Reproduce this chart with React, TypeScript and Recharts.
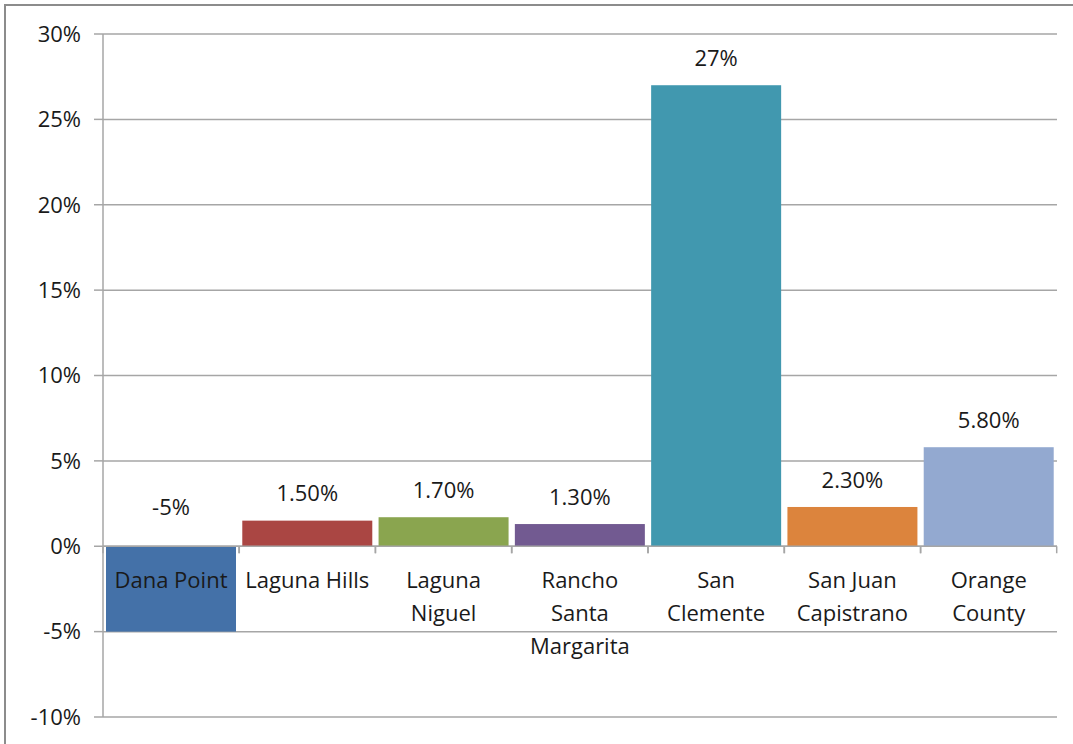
import { BarChart, Bar, XAxis, YAxis, CartesianGrid, ReferenceLine } from 'recharts';

const categories = [
  'Dana Point',
  'Laguna Hills',
  'Laguna Niguel',
  'Rancho Santa Margarita',
  'San Clemente',
  'San Juan Capistrano',
  'Orange County',
];
const values = [-0.05, 0.015, 0.017, 0.013, 0.27, 0.023, 0.058];
const valueLabels = ['-5%', '1.50%', '1.70%', '1.30%', '27%', '2.30%', '5.80%'];
const categoryLines = [
  ['Dana Point'],
  ['Laguna Hills'],
  ['Laguna', 'Niguel'],
  ['Rancho', 'Santa', 'Margarita'],
  ['San', 'Clemente'],
  ['San Juan', 'Capistrano'],
  ['Orange', 'County'],
];
const colors = ['#4471A8', '#AA4643', '#8AA54F', '#725A91', '#4198AF', '#DC843D', '#93A9D0'];
const yTicks = [-0.1, -0.05, 0, 0.05, 0.1, 0.15, 0.2, 0.25, 0.3];

const data = categories.map((name, i) => ({ name, value: values[i] }));

const FONT = '"Open Sans", sans-serif';
const GRID = '#A6A6A6';
const GAP = 0.022;

const BarShape = (props: any) => {
  const { x, y, width, height, index } = props;
  const top = Math.min(y, y + height);
  const bottom = Math.max(y, y + height);
  const v = values[index];
  const zeroY = v >= 0 ? bottom : top;
  const band = width / (1 - 2 * GAP);
  const left = x - (band - width) / 2;
  const right = left + band;
  const labelY = v >= 0 ? top - 27 : zeroY - 39;
  const cx = x + width / 2;
  return (
    <g>
      <rect x={x} y={top} width={width} height={bottom - top} fill={colors[index]} />
      <line x1={left} x2={left} y1={zeroY} y2={zeroY + 7} stroke={GRID} strokeWidth={1.5} />
      <line x1={right} x2={right} y1={zeroY} y2={zeroY + 7} stroke={GRID} strokeWidth={1.5} />
      <text x={cx} y={labelY} dy="0.35em" textAnchor="middle" fontSize={22} fontFamily={FONT} fill="#1a1a1a">
        {valueLabels[index]}
      </text>
      {categoryLines[index].map((line, k) => (
        <text
          key={k}
          x={cx}
          y={zeroY + 34 + k * 33}
          dy="0.35em"
          textAnchor="middle"
          fontSize={22}
          fontFamily={FONT}
          fill="#1a1a1a"
        >
          {line}
        </text>
      ))}
    </g>
  );
};

export default function App() {
  return (
    <div style={{ position: 'absolute', left: 0, top: 0, width: 1073, height: 744, background: '#fff', overflow: 'hidden' }}>
      <div
        style={{
          position: 'absolute',
          left: 4,
          top: 4,
          width: 1100,
          height: 800,
          borderLeft: '2px solid #8C8C8C',
          borderTop: '2px solid #8C8C8C',
        }}
      />
      <div style={{ position: 'absolute', left: 0, top: 0 }}>
        <BarChart
          width={1073}
          height={744}
          data={data}
          margin={{ top: 34, right: 16, bottom: 27, left: 0 }}
          barCategoryGap={`${GAP * 100}%`}
        >
          <CartesianGrid vertical={false} stroke={GRID} strokeWidth={1.5} />
          <XAxis dataKey="name" hide />
          <YAxis
            width={103}
            domain={[-0.1, 0.3]}
            ticks={yTicks}
            interval={0}
            tickFormatter={(v: number) => `${Math.round(v * 100)}%`}
            axisLine={{ stroke: GRID, strokeWidth: 1.5 }}
            tickLine={{ stroke: GRID, strokeWidth: 1.5 }}
            tickSize={9}
            tickMargin={13}
            tick={{ fontSize: 22, fontFamily: FONT, fill: '#1a1a1a' }}
          />
          <Bar dataKey="value" isAnimationActive={false} shape={BarShape} />
          <ReferenceLine y={0} stroke={GRID} strokeWidth={1.5} />
        </BarChart>
      </div>
    </div>
  );
}
